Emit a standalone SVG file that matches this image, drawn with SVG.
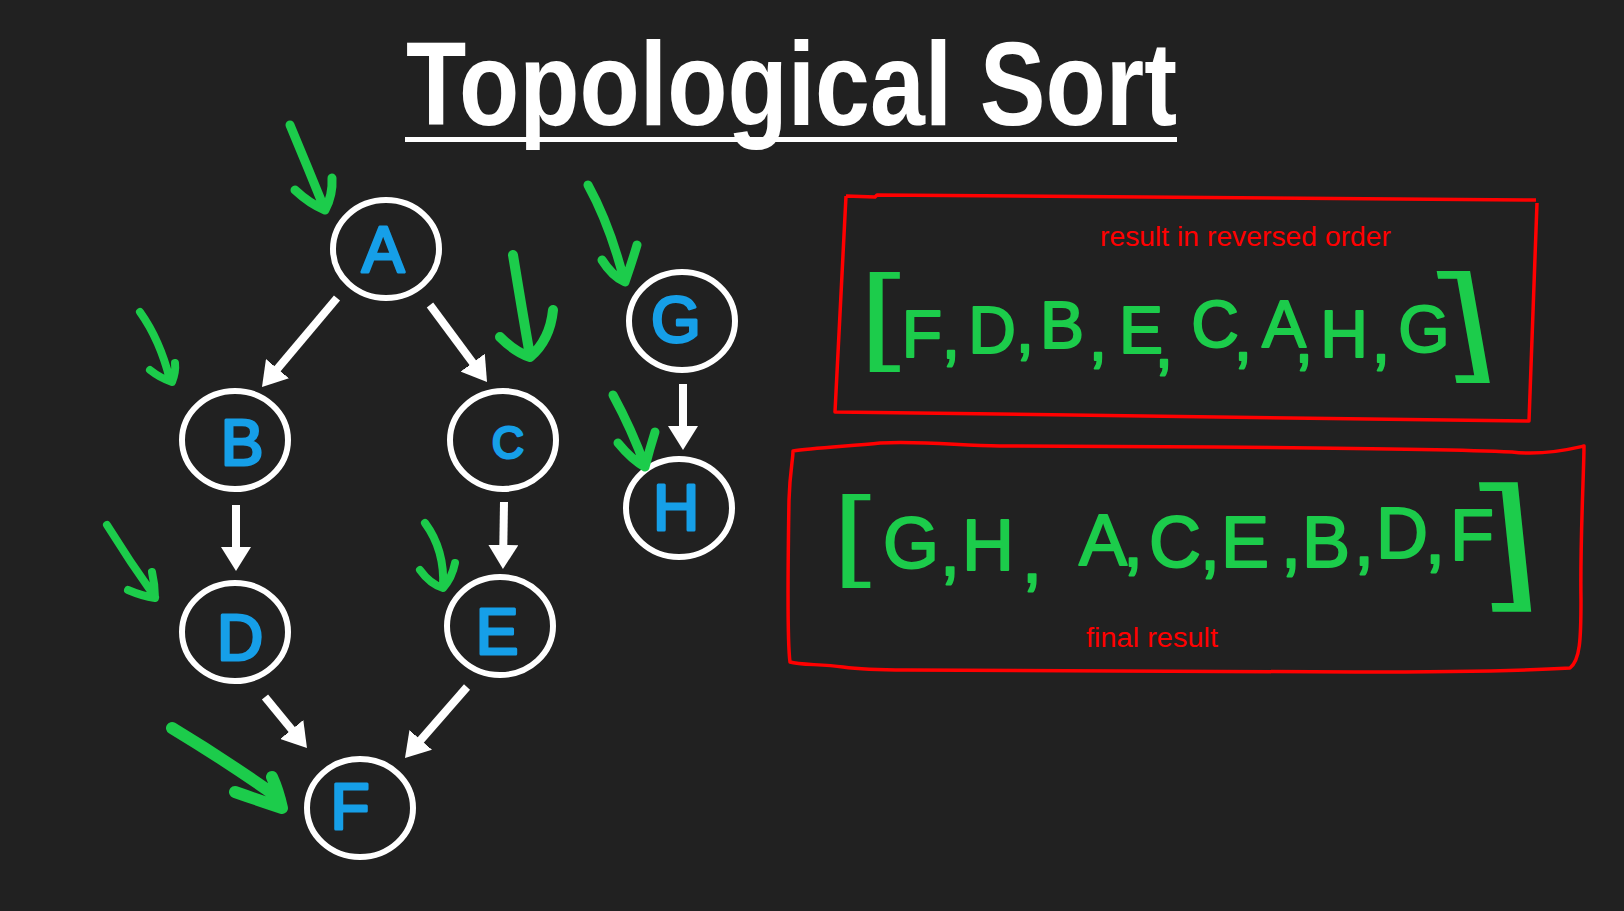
<svg xmlns="http://www.w3.org/2000/svg" width="1624" height="911" viewBox="0 0 1624 911">
<style>
.bg{fill:#212121}
.title{font-family:"Liberation Sans",Arial,sans-serif;font-weight:bold;font-size:118px;fill:#fff}
.node{fill:none;stroke:#fff;stroke-width:6}
.lbl{font-family:"Liberation Sans",Arial,sans-serif;font-size:64px;fill:#169fe8;stroke:#169fe8;stroke-width:3;stroke-linejoin:round;text-anchor:middle}
.edge{stroke:#fff;stroke-width:8;fill:none}
.mark{stroke:#1ccc4b;fill:none;stroke-linecap:round;stroke-linejoin:round;stroke-width:9}
.box{stroke:#ff0000;stroke-width:3.5;fill:none;stroke-linejoin:round}
.note{font-family:"Liberation Sans",Arial,sans-serif;font-size:27px;fill:#ff0000}
.hand{font-family:"Liberation Sans",Arial,sans-serif;fill:#1ccc4b;stroke:#1ccc4b;stroke-width:2;stroke-linejoin:round;stroke-linecap:round;text-anchor:middle}
.brk{stroke-width:0}
</style>
<defs>
<marker id="ah" markerUnits="userSpaceOnUse" markerWidth="24" markerHeight="30" viewBox="0 0 24 30" refX="8" refY="15" orient="auto">
<path d="M0,0 L24,15 L0,30 Z" fill="#fff"/>
</marker>
</defs>
<rect class="bg" x="0" y="0" width="1624" height="911"/>

<g id="title">
<text class="title" x="406" y="125" textLength="771" lengthAdjust="spacingAndGlyphs">Topological Sort</text>
<rect x="405" y="137" width="772" height="5" fill="#fff"/>
</g>

<g id="connectors">
<line class="edge" x1="337" y1="298" x2="272.3" y2="374.8" marker-end="url(#ah)"/>
<line class="edge" x1="430" y1="305" x2="477.5" y2="369.1" marker-end="url(#ah)"/>
<line class="edge" x1="236" y1="505" x2="236" y2="555" marker-end="url(#ah)"/>
<line class="edge" x1="504" y1="502" x2="503.2" y2="553" marker-end="url(#ah)"/>
<line class="edge" x1="265" y1="697" x2="296.8" y2="735.7" marker-end="url(#ah)"/>
<line class="edge" x1="467" y1="687" x2="415.5" y2="746" marker-end="url(#ah)"/>
<line class="edge" x1="683" y1="384" x2="683" y2="434" marker-end="url(#ah)"/>
</g>

<g id="node-A"><ellipse class="node" cx="386" cy="249" rx="53" ry="49"/><text class="lbl" x="383" y="272">A</text></g>
<g id="node-B"><ellipse class="node" cx="235" cy="440" rx="53" ry="49"/><text class="lbl" x="242" y="465">B</text></g>
<g id="node-C"><ellipse class="node" cx="503" cy="440" rx="53" ry="49"/><text class="lbl" x="508" y="458" style="font-size:44px">C</text></g>
<g id="node-D"><ellipse class="node" cx="235" cy="632" rx="53" ry="49"/><text class="lbl" x="240" y="660">D</text></g>
<g id="node-E"><ellipse class="node" cx="500" cy="626" rx="53" ry="49"/><text class="lbl" x="497" y="654">E</text></g>
<g id="node-F"><ellipse class="node" cx="360" cy="808" rx="53" ry="49"/><text class="lbl" x="350" y="829">F</text></g>
<g id="node-G"><ellipse class="node" cx="682" cy="321" rx="53" ry="49"/><text class="lbl" x="676" y="342">G</text></g>
<g id="node-H"><ellipse class="node" cx="679" cy="508" rx="53" ry="49"/><text class="lbl" x="676" y="530">H</text></g>

<g id="marks">
<path class="mark" d="M290,125 Q308,168 325,210 M295,190 Q310,204 325,210 Q333,195 332,178"/>
<path class="mark" style="stroke-width:8" d="M140,312 Q160,340 170,380 M150,370 Q160,378 172,382 Q176,372 175,363"/>
<path class="mark" style="stroke-width:10" d="M513,255 Q522,310 530,356 M500,337 Q515,352 530,357 Q550,340 553,310"/>
<path class="mark" d="M588,185 Q610,225 624,280 M602,260 Q612,276 625,282 Q632,262 637,245"/>
<path class="mark" d="M613,395 Q632,430 645,466 M618,443 Q632,460 645,467 Q650,448 655,432"/>
<path class="mark" style="stroke-width:8" d="M107,525 Q130,562 155,597 M128,590 Q142,596 155,598 Q155,585 152,572"/>
<path class="mark" style="stroke-width:8" d="M425,523 Q445,550 443,587 M420,570 Q430,584 443,588 Q452,578 455,563"/>
<path class="mark" style="stroke-width:12" d="M172,728 Q225,760 276,796 M235,792 Q258,800 282,808 Q278,790 272,777"/>
</g>

<g id="result-reversed">
<path class="box" d="M846,196 L875,197 L877,195 L1536,200 M1537,203 L1529,421 L835,412 L846,196"/>
<text class="note" x="1100" y="246" textLength="291" lengthAdjust="spacingAndGlyphs">result in reversed order</text>
<text class="hand brk" transform="translate(880,350) scale(1.4,1)" style="font-size:108px">[</text>
<text class="hand" style="font-size:66px" x="922 951 992 1025 1062 1098 1141 1164 1215 1243 1284 1304 1344 1381 1424" y="357 358 353 352 348 360 353 367 347 360 347 362 357 362 352">F,D,B,E,C,A,H,G</text>
<text class="hand brk" transform="translate(1474,358) skewX(10) scale(1.4,1)" style="font-size:120px">]</text>
</g>

<g id="result-final">
<path class="box" d="M793,451 C810,448 850,446 880,443 C930,441 960,446 1000,446 L1214,447 C1350,448 1470,450 1512,452 C1545,456 1575,448 1584,446 C1584,470 1580,540 1581,600 C1581,640 1580,660 1570,668 C1500,672 1400,672 1355,672 L906,670 C870,670 850,668 843,667 C820,664 800,665 790,662 C787,640 788,560 789,500 C790,470 793,460 793,451 Z"/>
<text class="note" x="1086" y="647" textLength="132" lengthAdjust="spacingAndGlyphs">final result</text>
<text class="hand brk" transform="translate(852,567) scale(1.4,1)" style="font-size:100px">[</text>
<text class="hand" style="font-size:72px" x="911 950 988 1032 1103 1133 1175 1210 1245 1291 1326 1364 1402 1435 1472" y="568 575 570 582 565 566 567 569 567 567 567 565 558 563 560">G,H,A,C,E,B,D,F</text>
<text class="hand brk" transform="translate(1515,583) skewX(6) scale(1.4,1)" style="font-size:139px">]</text>
</g>
</svg>
